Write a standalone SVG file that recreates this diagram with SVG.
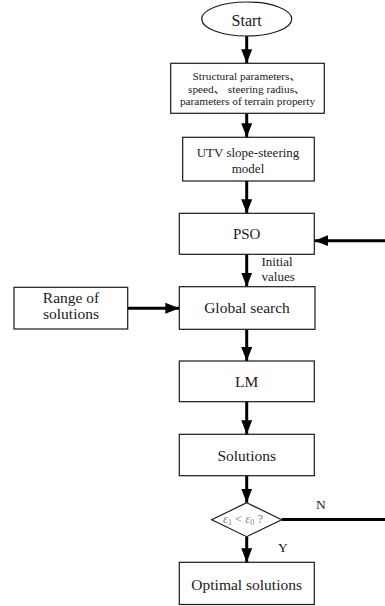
<svg xmlns="http://www.w3.org/2000/svg" width="385" height="606" viewBox="0 0 385 606">
<style>
  .box { fill: #ffffff; stroke: #1a1a1a; stroke-width: 1.2; }
  .t { font-family: "Liberation Serif", "Times New Roman", "DejaVu Serif", "Noto Sans CJK SC", serif; fill: #1a1a1a; text-anchor: middle; }
  .conn { stroke: #000000; stroke-width: 3; fill: none; }
  .lbl { font-family: "Liberation Serif", "Times New Roman", "DejaVu Serif", serif; fill: #1a1a1a; }
  .eq { font-family: "Liberation Serif", "Times New Roman", "DejaVu Serif", serif; fill: #808080; text-anchor: middle; }
</style>
<defs>
  <marker id="ah" markerUnits="userSpaceOnUse" markerWidth="15" markerHeight="12" refX="14" refY="6" orient="auto">
    <path d="M0,0.5 L14,6 L0,11.5 z" fill="#000000"/>
  </marker>
</defs>
<rect width="385" height="606" fill="#ffffff"/>

<g id="connectors">
  <line class="conn" x1="246.7" y1="36" x2="246.7" y2="63.3" marker-end="url(#ah)"/>
  <line class="conn" x1="246.7" y1="113.3" x2="246.7" y2="137.3" marker-end="url(#ah)"/>
  <line class="conn" x1="246.7" y1="181" x2="246.7" y2="213.3" marker-end="url(#ah)"/>
  <line class="conn" x1="385" y1="240.7" x2="314.3" y2="240.7" marker-end="url(#ah)"/>
  <line class="conn" x1="246.7" y1="254.3" x2="246.7" y2="286.7" marker-end="url(#ah)"/>
  <line class="conn" x1="127.7" y1="308.3" x2="179.3" y2="308.3" marker-end="url(#ah)"/>
  <line class="conn" x1="246.7" y1="329.3" x2="246.7" y2="361" marker-end="url(#ah)"/>
  <line class="conn" x1="246.7" y1="401.7" x2="246.7" y2="434.3" marker-end="url(#ah)"/>
  <line class="conn" x1="246.7" y1="475.7" x2="246.7" y2="502.7" marker-end="url(#ah)"/>
  <line class="conn" x1="246.7" y1="536.7" x2="246.7" y2="562.3" marker-end="url(#ah)"/>
  <line class="conn" x1="281.7" y1="519.5" x2="385" y2="519.5"/>
  <text class="lbl" x="261.5" y="265.7" font-size="13">Initial</text>
  <text class="lbl" x="261.5" y="281" font-size="13">values</text>
  <text class="lbl" x="316" y="509.3" font-size="13.5">N</text>
  <text class="lbl" x="278" y="551.7" font-size="13.5">Y</text>
</g>

<g id="start">
  <ellipse class="box" cx="246.7" cy="19" rx="45" ry="17"/>
  <text class="t" x="246.7" y="26" font-size="16">Start</text>
</g>

<g id="inputs">
  <rect class="box" x="170.7" y="63.3" width="153.6" height="50"/>
  <text class="t" x="246.7" y="80" font-size="11.3">Structural parameters、</text>
  <text class="t" x="246.7" y="92.5" font-size="11.3">speed、 steering radius、</text>
  <text class="t" x="247.5" y="105" font-size="11.3">parameters of terrain property</text>
</g>

<g id="utv-model">
  <rect class="box" x="182.7" y="137.3" width="131.6" height="43.7"/>
  <text class="t" x="248" y="157.3" font-size="13">UTV slope-steering</text>
  <text class="t" x="248" y="173.3" font-size="13">model</text>
</g>

<g id="pso">
  <rect class="box" x="179.3" y="213.3" width="135" height="41"/>
  <text class="t" x="246.7" y="238.8" font-size="15">PSO</text>
</g>

<g id="range">
  <rect class="box" x="14" y="287.3" width="113.7" height="41.7"/>
  <text class="t" x="71" y="303.3" font-size="15.5">Range of</text>
  <text class="t" x="71" y="319" font-size="15.5">solutions</text>
</g>

<g id="global-search">
  <rect class="box" x="179.3" y="286.7" width="135.7" height="42.6"/>
  <text class="t" x="247" y="313.3" font-size="15.5">Global search</text>
</g>

<g id="lm">
  <rect class="box" x="179.3" y="361" width="135" height="40.7"/>
  <text class="t" x="246.7" y="386.7" font-size="15.5">LM</text>
</g>

<g id="solutions">
  <rect class="box" x="179.3" y="434.3" width="135" height="41.4"/>
  <text class="t" x="246.7" y="460.5" font-size="15.5">Solutions</text>
</g>

<g id="check">
  <polygon class="box" points="246.7,502.7 281.7,519.7 246.7,536.7 211.7,519.7"/>
  <text class="eq" x="243" y="523" font-size="12.5"><tspan font-style="italic">ε</tspan><tspan font-size="8" dy="2">1</tspan><tspan dy="-2"> &lt; </tspan><tspan font-style="italic">ε</tspan><tspan font-size="8" dy="2">0</tspan><tspan dy="-2"> ?</tspan></text>
</g>

<g id="optimal">
  <rect class="box" x="179.3" y="562.3" width="135" height="42.2"/>
  <text class="t" x="246.7" y="590" font-size="15.5">Optimal solutions</text>
</g>
</svg>
